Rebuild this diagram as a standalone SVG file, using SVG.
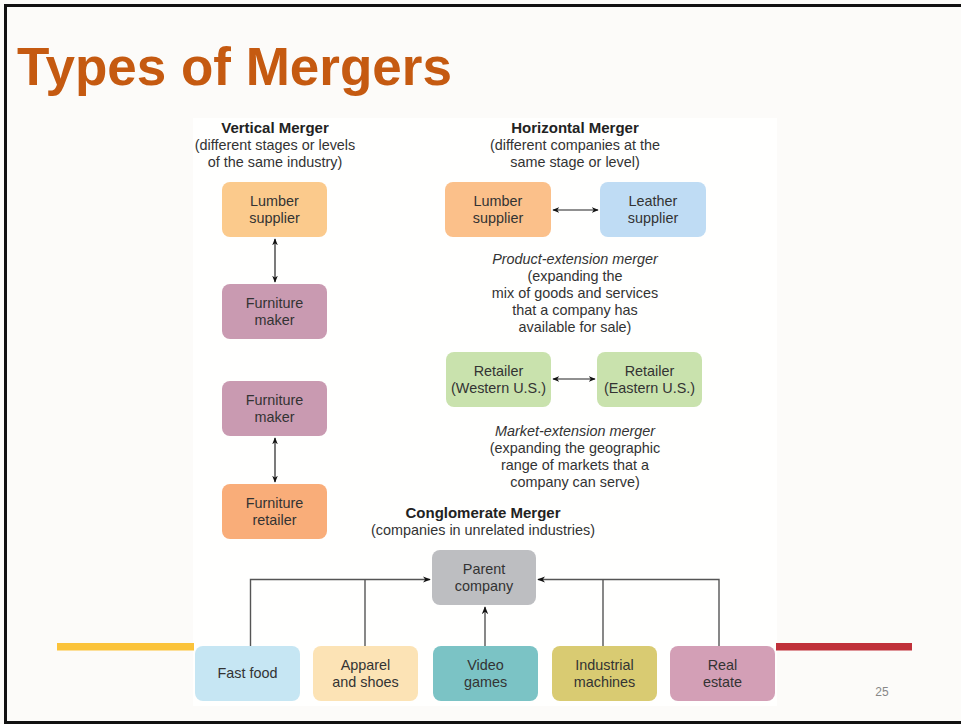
<svg xmlns="http://www.w3.org/2000/svg" width="961" height="724" viewBox="0 0 961 724">
<defs>
<style>
.t{font-family:"Liberation Sans",Arial,Helvetica,sans-serif;font-size:14.4px;fill:#333;text-anchor:middle}
.h{font-family:"Liberation Sans",Arial,Helvetica,sans-serif;font-size:15px;font-weight:bold;fill:#222;text-anchor:middle}
.i{font-style:italic}
.box{stroke:none}
.arr{stroke:#222;stroke-width:1.2;fill:none;marker-start:url(#ah);marker-end:url(#ah)}
.con{stroke:#555;stroke-width:1.4;fill:none}
</style>
<marker id="ah" viewBox="0 0 10 10" refX="9" refY="5" markerWidth="7" markerHeight="7" markerUnits="userSpaceOnUse" orient="auto-start-reverse">
<path d="M0,1 L10,5 L0,9 L3,5 Z" fill="#111"/>
</marker>
<marker id="ah2" viewBox="0 0 10 10" refX="9" refY="5" markerWidth="8" markerHeight="8" markerUnits="userSpaceOnUse" orient="auto">
<path d="M0,1 L10,5 L0,9 L3,5 Z" fill="#111"/>
</marker>
</defs>
<rect x="0" y="0" width="961" height="724" fill="#fcfbf9"/>
<rect x="193" y="118" width="584" height="588" fill="#fffffe"/>
<path d="M5.5,724 V5.5 H961 M4,722.5 H961" stroke="#111" stroke-width="3" fill="none"/>
<text x="17" y="85" font-family="Liberation Sans,Arial,sans-serif" font-size="53" font-weight="bold" fill="#c55a11">Types of Mergers</text>
<rect x="57" y="643" width="137" height="7.5" fill="#fbc33a"/>
<rect x="776" y="643" width="136" height="7.5" fill="#c0313a"/>
<text x="882" y="696" font-family="Liberation Sans,Arial,sans-serif" font-size="12" fill="#888" text-anchor="middle">25</text>

<g id="labels">
<text class="h" x="275" y="133">Vertical Merger</text>
<text class="t" x="275" y="150">(different stages or levels</text>
<text class="t" x="275" y="167">of the same industry)</text>
<text class="h" x="575" y="133">Horizontal Merger</text>
<text class="t" x="575" y="150">(different companies at the</text>
<text class="t" x="575" y="167">same stage or level)</text>
<text class="t i" x="575" y="264">Product-extension merger</text>
<text class="t" x="575" y="281">(expanding the</text>
<text class="t" x="575" y="298">mix of goods and services</text>
<text class="t" x="575" y="315">that a company has</text>
<text class="t" x="575" y="332">available for sale)</text>
<text class="t i" x="575" y="436">Market-extension merger</text>
<text class="t" x="575" y="453">(expanding the geographic</text>
<text class="t" x="575" y="470">range of markets that a</text>
<text class="t" x="575" y="487">company can serve)</text>
<text class="h" x="483" y="518">Conglomerate Merger</text>
<text class="t" x="483" y="535">(companies in unrelated industries)</text>
</g>

<g id="v-lumber"><rect class="box" x="222" y="182" width="105" height="55" rx="8" fill="#fbca8c"/><text class="t" x="274.5" y="206">Lumber</text><text class="t" x="274.5" y="223">supplier</text></g>
<g id="v-maker1"><rect class="box" x="222" y="284" width="105" height="55" rx="8" fill="#c99ab1"/><text class="t" x="274.5" y="308">Furniture</text><text class="t" x="274.5" y="325">maker</text></g>
<g id="v-maker2"><rect class="box" x="222" y="381" width="105" height="55" rx="8" fill="#c99ab1"/><text class="t" x="274.5" y="405">Furniture</text><text class="t" x="274.5" y="422">maker</text></g>
<g id="v-retailer"><rect class="box" x="222" y="484" width="105" height="55" rx="8" fill="#f9ad79"/><text class="t" x="274.5" y="508">Furniture</text><text class="t" x="274.5" y="525">retailer</text></g>

<g id="h-lumber"><rect class="box" x="445" y="182" width="106" height="55" rx="8" fill="#fbc08a"/><text class="t" x="498" y="206">Lumber</text><text class="t" x="498" y="223">supplier</text></g>
<g id="h-leather"><rect class="box" x="600" y="182" width="106" height="55" rx="8" fill="#bfdcf4"/><text class="t" x="653" y="206">Leather</text><text class="t" x="653" y="223">supplier</text></g>
<g id="r-west"><rect class="box" x="446" y="352" width="105" height="55" rx="8" fill="#c9e2ad"/><text class="t" x="498.5" y="376">Retailer</text><text class="t" x="498.5" y="393">(Western U.S.)</text></g>
<g id="r-east"><rect class="box" x="597" y="352" width="105" height="55" rx="8" fill="#c9e2ad"/><text class="t" x="649.5" y="376">Retailer</text><text class="t" x="649.5" y="393">(Eastern U.S.)</text></g>

<g id="parent"><rect class="box" x="432" y="550" width="104" height="55" rx="8" fill="#bdbec1"/><text class="t" x="484" y="574">Parent</text><text class="t" x="484" y="591">company</text></g>
<g id="fastfood"><rect class="box" x="195" y="646" width="105" height="55" rx="8" fill="#c6e6f3"/><text class="t" x="247.5" y="678">Fast food</text></g>
<g id="apparel"><rect class="box" x="313" y="646" width="105" height="55" rx="8" fill="#fce3b5"/><text class="t" x="365.5" y="670">Apparel</text><text class="t" x="365.5" y="687">and shoes</text></g>
<g id="video"><rect class="box" x="433" y="646" width="105" height="55" rx="8" fill="#7bc3c5"/><text class="t" x="485.5" y="670">Video</text><text class="t" x="485.5" y="687">games</text></g>
<g id="industrial"><rect class="box" x="552" y="646" width="105" height="55" rx="8" fill="#d9cb72"/><text class="t" x="604.5" y="670">Industrial</text><text class="t" x="604.5" y="687">machines</text></g>
<g id="realestate"><rect class="box" x="670" y="646" width="105" height="55" rx="8" fill="#d39fb6"/><text class="t" x="722.5" y="670">Real</text><text class="t" x="722.5" y="687">estate</text></g>

<g id="connectors">
<path class="arr" d="M275,239 V282"/>
<path class="arr" d="M275,438 V482"/>
<path class="arr" d="M553,210 H598"/>
<path class="arr" d="M553,379 H595"/>
<path class="con" d="M250.5,646 V579.5 H430" marker-end="url(#ah2)"/>
<path class="con" d="M365,646 V579.5"/>
<path class="con" d="M719,646 V579.5 H538" marker-end="url(#ah2)"/>
<path class="con" d="M603,646 V579.5"/>
<path class="con" d="M485,646 V607" marker-end="url(#ah2)"/>
</g>
</svg>
